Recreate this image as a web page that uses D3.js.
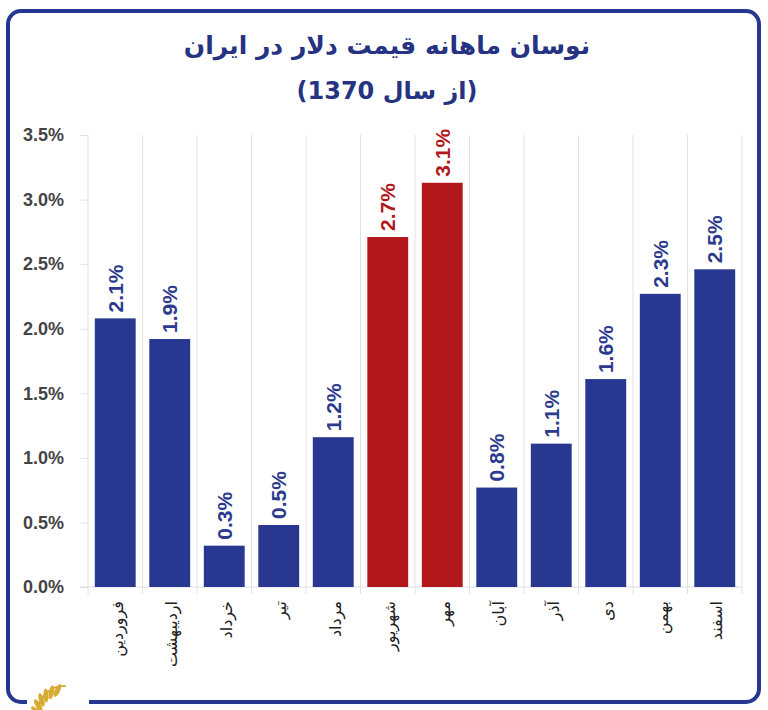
<!DOCTYPE html>
<html><head><meta charset="utf-8">
<script src="https://cdn.jsdelivr.net/npm/d3@7"></script>
<style>body{margin:0;background:#fff}svg{display:block}</style>
</head><body>
<script>
const months = ["فروردین","اردیبهشت","خرداد","تیر","مرداد","شهریور","مهر","آبان","آذر","دی","بهمن","اسفند"];
const values = [2.08,1.92,0.32,0.48,1.16,2.71,3.13,0.77,1.11,1.61,2.27,2.46];
const valueLabels = ["2.1%","1.9%","0.3%","0.5%","1.2%","2.7%","3.1%","0.8%","1.1%","1.6%","2.3%","2.5%"];
const highlighted = ["شهریور","مهر"];
const yTicks = [0,0.5,1.0,1.5,2.0,2.5,3.0,3.5];
const titleText = "نوسان ماهانه قیمت دلار در ایران";
const subtitleText = "(از سال 1370)";

const W = 768, H = 710;
const BLUE = "#283891", RED = "#b2181b", LBLUE = "#2c3a8e";
const svg = d3.select("body").append("svg").attr("width", W).attr("height", H);

// frame
svg.append("rect").attr("x",8).attr("y",11).attr("width",751).attr("height",691)
  .attr("rx",13).attr("fill","#fff").attr("stroke","#27368f").attr("stroke-width",4);
// gap for logo on bottom edge
svg.append("rect").attr("x",27).attr("y",698).attr("width",62).attr("height",8).attr("fill","#fff");

// title
svg.append("text").attr("x",387).attr("y",45).attr("text-anchor","middle").attr("dominant-baseline","central")
  .attr("font-family","DejaVu Sans").attr("font-weight","bold").attr("font-size",25).attr("fill","#263282")
  .text(titleText);
svg.append("text").attr("x",387).attr("y",91).attr("text-anchor","middle").attr("dominant-baseline","central")
  .attr("font-family","DejaVu Sans").attr("font-weight","bold").attr("font-size",24).attr("fill","#263282")
  .text(subtitleText);

const x = d3.scaleBand().domain(months).range([88,742]).paddingInner(0.25).paddingOuter(0.125);
const y = d3.scaleLinear().domain([0,3.5]).range([587,135]);
const step = x.step();

// vertical separators
const sepX = months.map(m => x(m) - step*0.125).concat([742]);
svg.append("g").selectAll("line").data(sepX).join("line")
  .attr("x1",d=>d).attr("x2",d=>d).attr("y1",y(3.5)).attr("y2",594)
  .attr("stroke","#e2e2e6").attr("stroke-width",1);

// y axis
const yAxis = d3.axisLeft(y).tickValues(yTicks).tickFormat(d=>d.toFixed(1)+"%").tickSize(8).tickPadding(16);
const ga = svg.append("g").attr("transform","translate(88,0)").call(yAxis);
ga.select(".domain").remove();
ga.selectAll(".tick line").attr("stroke","#e2e2e6");
ga.selectAll(".tick text").attr("font-family","Liberation Sans").attr("font-weight","bold").attr("font-size",18).attr("fill","#444");

// baseline
svg.append("line").attr("x1",80).attr("x2",742).attr("y1",y(0)).attr("y2",y(0)).attr("stroke","#dcdce4").attr("stroke-width",1);

// bars
const data = months.map((m,i)=>({m, v:values[i], lab:valueLabels[i], hi: highlighted.includes(m)}));
svg.append("g").selectAll("rect").data(data).join("rect")
  .attr("x",d=>x(d.m)).attr("width",x.bandwidth())
  .attr("y",d=>y(d.v)).attr("height",d=>y(0)-y(d.v))
  .attr("fill",d=>d.hi?RED:BLUE);

// value labels
svg.append("g").selectAll("text").data(data).join("text")
  .attr("transform",d=>`translate(${x(d.m)+x.bandwidth()/2},${y(d.v)-6}) rotate(-90)`)
  .attr("text-anchor","start").attr("dominant-baseline","central")
  .attr("font-family","Liberation Sans").attr("font-weight","bold").attr("font-size",21)
  .attr("fill",d=>d.hi?RED:LBLUE).text(d=>d.lab);

// category labels
svg.append("g").selectAll("text").data(data).join("text")
  .attr("transform",d=>`translate(${x(d.m)+x.bandwidth()/2+2},601) rotate(-90)`)
  .attr("text-anchor","end").attr("dominant-baseline","central")
  .attr("font-family","DejaVu Sans").attr("font-size",16).attr("fill","#222")
  .text(d=>d.m);

// logo (golden wheat sprig)
const logo = svg.append("g").attr("transform","translate(62,716)");
const leaves = d3.range(6);
logo.append("path").attr("d","M-24,-4 A26,26 0 0 1 4,-30").attr("fill","none").attr("stroke","#c99a25").attr("stroke-width",1.5);
logo.selectAll("ellipse").data(leaves).join("ellipse")
  .attr("cx",0).attr("cy",0).attr("rx",2.6).attr("ry",7)
  .attr("fill","#d8ab32")
  .attr("transform",d=>{const a=-170+d*14; const r=26; const px=r*Math.cos(a*Math.PI/180), py=r*Math.sin(a*Math.PI/180); return `translate(${px},${py}) rotate(${a+90+35})`;});
</script>
</body></html>
